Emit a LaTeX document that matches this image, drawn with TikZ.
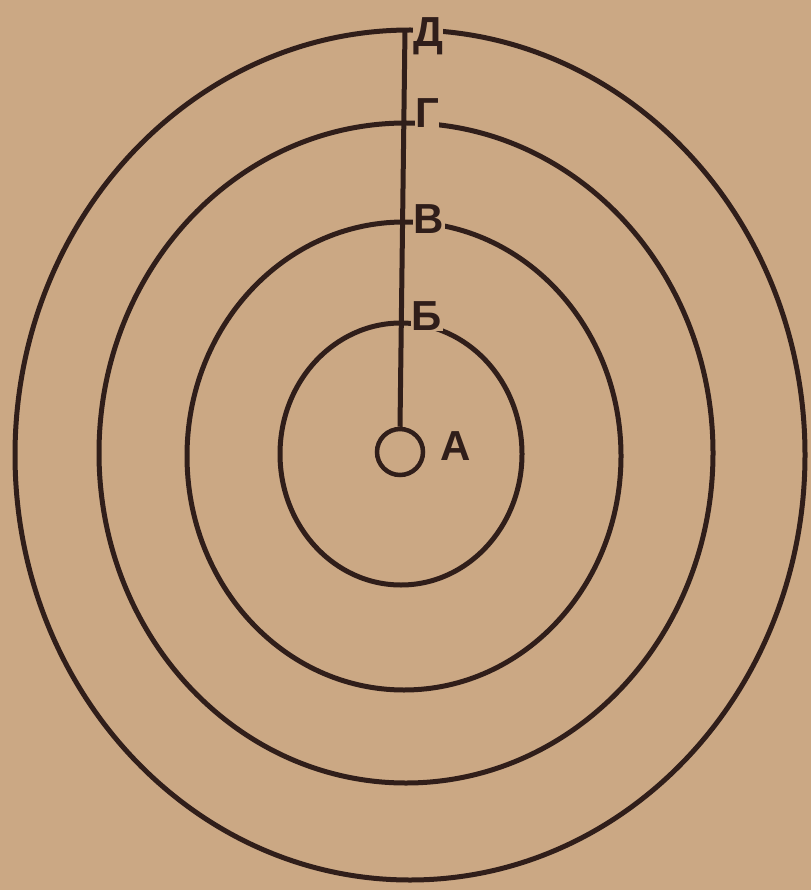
\documentclass[tikz,border=0pt]{standalone}
\usepackage{fontspec}
\setmainfont{Liberation Sans}
\definecolor{paper}{RGB}{203,168,132}
\definecolor{ink}{RGB}{48,30,26}
\begin{document}
\begin{tikzpicture}[x=1pt,y=-1pt,line width=5pt,
  ring/.style={draw=ink},
  lab/.style={text=ink,fill=paper,inner sep=0.5pt,font=\fontsize{42}{42}\selectfont\bfseries}]
\fill[paper] (0,0) rectangle (811,890);
\useasboundingbox (0,0) rectangle (811,890);
% rings
\draw[ring] (401,454) ellipse [x radius=121, y radius=131];
\draw[ring] (404,456) ellipse [x radius=217, y radius=234];
\draw[ring] (406,453) ellipse [x radius=307, y radius=330];
\draw[ring] (410,455) ellipse [x radius=395, y radius=425];
% centre point and radius line
\node[circle,draw=ink,line width=4.5pt,minimum size=46pt,inner sep=0pt] (a) at (400,452) {};
\coordinate (top) at (405,29);
\draw[ink] (a.north) -- (top);
% labels
\node[lab] (ld) at (428,36) {Д};
\node[lab] (lg) at (427,113) {Г};
\node[lab] (lv) at (429,219) {В};
\node[lab] (lb) at (427,316) {Б};
\node[text=ink,inner sep=0pt,font=\fontsize{42}{42}\selectfont\bfseries] (la) at (456,446) {А};
\end{tikzpicture}
\end{document}
